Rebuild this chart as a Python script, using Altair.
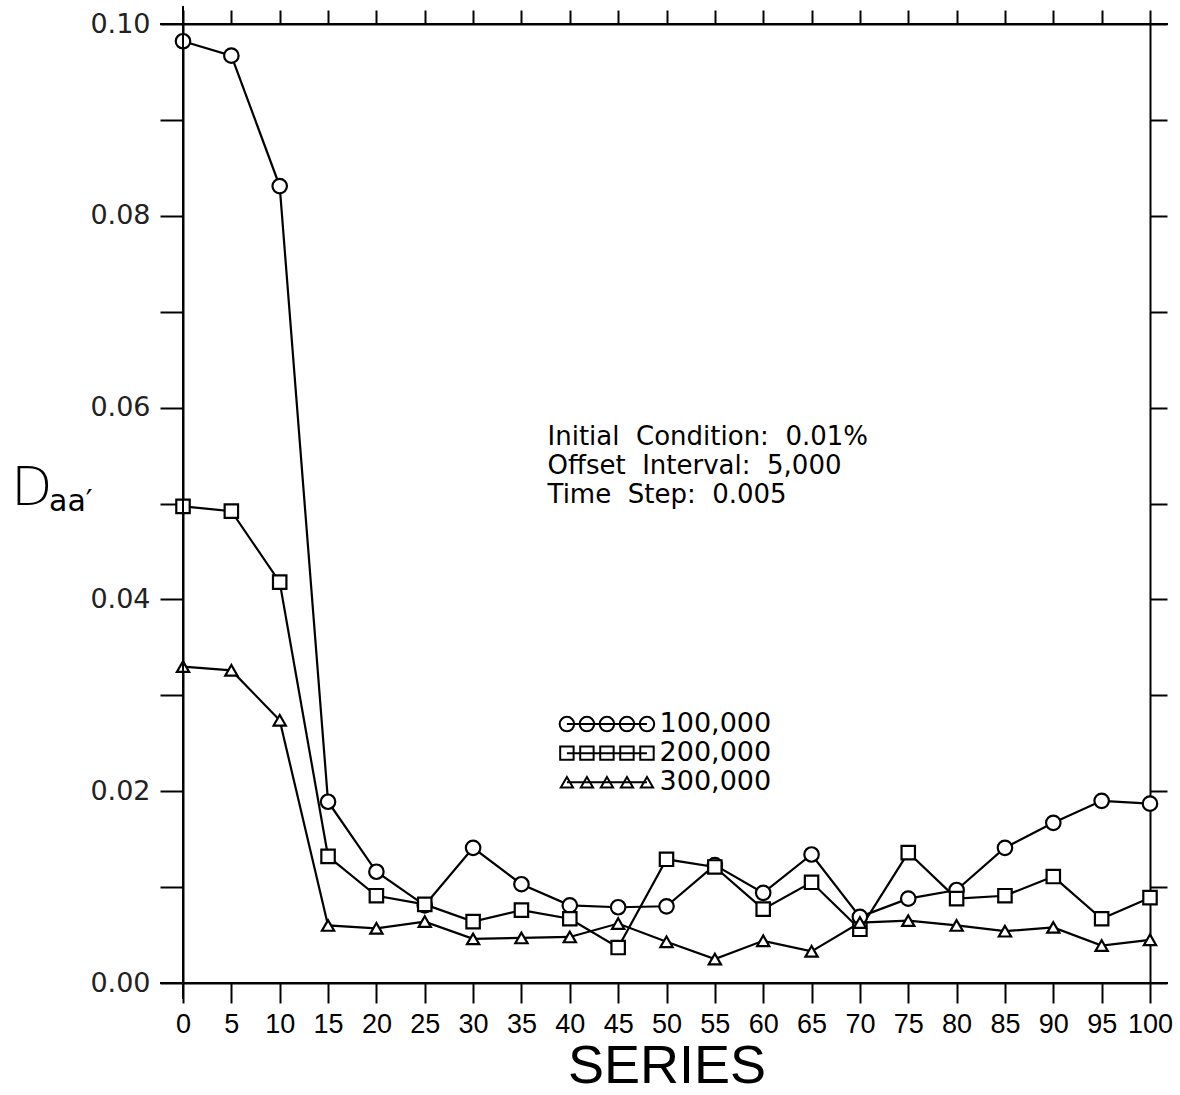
import altair as alt
import pandas as pd

# ---- data ----
series_x = [0, 5, 10, 15, 20, 25, 30, 35, 40, 45, 50, 55, 60, 65, 70, 75, 80, 85, 90, 95, 100]
d_100k = [0.0982, 0.0967, 0.0831, 0.0189, 0.0116, 0.0081, 0.0141, 0.0103, 0.0081, 0.0079, 0.0080,
          0.0123, 0.0094, 0.0134, 0.0069, 0.0088, 0.0097, 0.0141, 0.0167, 0.0190, 0.0187]
d_200k = [0.0497, 0.0492, 0.0418, 0.0132, 0.0091, 0.0082, 0.0064, 0.0076, 0.0067, 0.0037, 0.0129,
          0.0121, 0.0077, 0.0105, 0.0056, 0.0136, 0.0088, 0.0091, 0.0111, 0.0067, 0.0089]
d_300k = [0.0330, 0.0326, 0.0274, 0.0060, 0.0057, 0.0064, 0.0046, 0.0047, 0.0048, 0.0062, 0.0043,
          0.0025, 0.0044, 0.0033, 0.0063, 0.0065, 0.0060, 0.0054, 0.0058, 0.0039, 0.0045]
series_names = ["100,000", "200,000", "300,000"]
shapes = ["circle", "square", "triangle-up"]
marker_sizes = [210, 150, 130]
annotation_lines = ["Initial\u00a0 Condition:\u00a0 0.01%", "Offset\u00a0 Interval:\u00a0 5,000",
                    "Time\u00a0 Step:\u00a0 0.005"]
x_ticks = list(range(0, 101, 5))
y_ticks = [round(i * 0.01, 2) for i in range(11)]

rows = []
for name, vals in zip(series_names, [d_100k, d_200k, d_300k]):
    for s, v in zip(series_x, vals):
        rows.append({"series": s, "value": v, "run": name})
df = pd.DataFrame(rows)

# legend entries (placed in data units inside the plot)
leg_x0, leg_dx, leg_y0, leg_dy = 39.7, 2.07, 0.0270, 0.00303
leg_rows, leg_text = [], []
for i, name in enumerate(series_names):
    for k in range(5):
        leg_rows.append({"series": leg_x0 + k * leg_dx, "value": leg_y0 - i * leg_dy, "run": name})
    leg_text.append({"series": leg_x0 + 4 * leg_dx + 1.3, "value": leg_y0 - i * leg_dy, "label": name})
leg_df = pd.DataFrame(leg_rows)
leg_text_df = pd.DataFrame(leg_text)

ann_df = pd.DataFrame({
    "series": [37.7] * 3,
    "value": [0.0569 - i * 0.0030 for i in range(3)],
    "label": annotation_lines,
})

xs = alt.Scale(domain=[0, 100], nice=False, zero=False)
ys = alt.Scale(domain=[0, 0.10], nice=False, zero=True)
shape_scale = alt.Scale(domain=series_names, range=shapes)
size_scale = alt.Scale(domain=series_names, range=marker_sizes)

NARROW = "Liberation Sans, Arial, sans-serif"
SANS = "DejaVu Sans, sans-serif"

bottom_axis = alt.Axis(values=x_ticks, orient="bottom", tickSize=20, tickWidth=2, tickColor="black",
                       domainWidth=2, domainColor="black", labelFont=NARROW, labelFontSize=27,
                       labelColor="black", labelPadding=8, labelFlush=False, grid=False,
                       labelOverlap=False,
                       title="SERIES", titleFont=NARROW, titleFontSize=54, titleFontWeight="normal",
                       titleColor="black", titlePadding=2)
left_axis = alt.Axis(values=y_ticks, orient="left", tickSize=23, tickWidth=2, tickColor="black",
                     domainWidth=2, domainColor="black", labelFont=SANS, labelFontSize=27,
                     labelColor="#222222", labelPadding=10, grid=False, title=None,
                     labelExpr="round(datum.value*100) % 2 == 0 ? format(datum.value, '.2f') : ''")
top_axis = alt.Axis(values=x_ticks, orient="top", tickSize=14, tickWidth=2, tickColor="black",
                    domainWidth=2, domainColor="black", labels=False, grid=False, title=None)
right_axis = alt.Axis(values=y_ticks, orient="right", tickSize=17, tickWidth=2, tickColor="black",
                      domainWidth=2, domainColor="black", labels=False, grid=False, title=None)

base = alt.Chart(df)

lines = base.mark_line(color="black", strokeWidth=2.2).encode(
    x=alt.X("series:Q", scale=xs, axis=bottom_axis),
    y=alt.Y("value:Q", scale=ys, axis=left_axis),
    detail="run:N",
)

points = base.mark_point(filled=False, fill="white", fillOpacity=1, stroke="black", strokeWidth=2.2, opacity=1).encode(
    x=alt.X("series:Q", scale=xs, axis=top_axis),
    y=alt.Y("value:Q", scale=ys, axis=right_axis),
    shape=alt.Shape("run:N", scale=shape_scale, legend=None),
    size=alt.Size("run:N", scale=size_scale, legend=None),
)

leg_lines = alt.Chart(leg_df).mark_line(color="black", strokeWidth=2).encode(
    x=alt.X("series:Q", scale=xs, axis=None),
    y=alt.Y("value:Q", scale=ys, axis=None),
    detail="run:N",
)
leg_points = alt.Chart(leg_df).mark_point(filled=False, stroke="black", strokeWidth=2, opacity=1).encode(
    x=alt.X("series:Q", scale=xs, axis=None),
    y=alt.Y("value:Q", scale=ys, axis=None),
    shape=alt.Shape("run:N", scale=shape_scale, legend=None),
    size=alt.Size("run:N", scale=alt.Scale(domain=series_names, range=[150, 110, 110]), legend=None),
)
leg_labels = alt.Chart(leg_text_df).mark_text(align="left", baseline="middle", font=SANS,
                                               fontSize=27, color="black").encode(
    x=alt.X("series:Q", scale=xs, axis=None),
    y=alt.Y("value:Q", scale=ys, axis=None),
    text="label:N",
)

ann = alt.Chart(ann_df).mark_text(align="left", baseline="middle", font=SANS,
                                  fontSize=26, color="black").encode(
    x=alt.X("series:Q", scale=xs, axis=None),
    y=alt.Y("value:Q", scale=ys, axis=None),
    text="label:N",
)

# y-axis title D_aa'
title_df = pd.DataFrame({"t": ["D"], "s": ["aa\u2032"]})
title_big = alt.Chart(title_df).mark_text(align="left", baseline="alphabetic", font=SANS,
                                          fontSize=54, fontWeight=300, color="black").encode(
    x=alt.value(-172), y=alt.value(481), text="t:N")
title_sub = alt.Chart(title_df).mark_text(align="left", baseline="alphabetic", font=SANS,
                                          fontSize=30, color="black").encode(
    x=alt.value(-134), y=alt.value(487), text="s:N")

# extended frame lines (as in the plotter original)
frame_df = pd.DataFrame({"k": [0]})
top_line = alt.Chart(frame_df).mark_rule(color="black", strokeWidth=2).encode(
    x=alt.value(-23), x2=alt.value(985), y=alt.value(0))
bottom_line = alt.Chart(frame_df).mark_rule(color="black", strokeWidth=2).encode(
    x=alt.value(-23), x2=alt.value(985), y=alt.value(959))
left_line = alt.Chart(frame_df).mark_rule(color="black", strokeWidth=2).encode(
    x=alt.value(0), y=alt.value(-18), y2=alt.value(975))

chart = alt.layer(
    lines, points, leg_lines, leg_points, leg_labels, ann, title_big, title_sub,
    top_line, bottom_line, left_line,
).resolve_axis(x="independent", y="independent").properties(
    width=967, height=959,
    autosize=alt.AutoSizeParams(type="none"),
    padding={"left": 183, "top": 24, "right": 30, "bottom": 112},
    background="white",
).configure_view(stroke=None)

chart.save("out.html", embed_options={"renderer": "svg", "actions": False})
